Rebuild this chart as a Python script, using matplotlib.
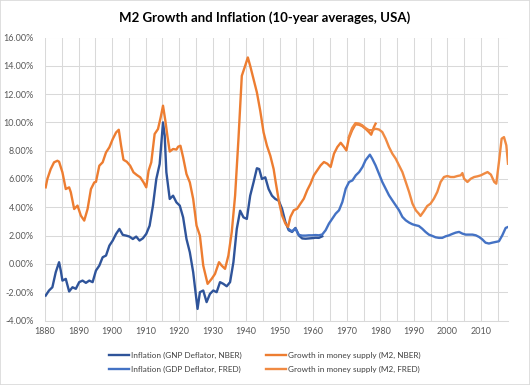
import matplotlib.pyplot as plt
from matplotlib.patches import Rectangle

# 10-year averages, percent
nber_infl_years = [1880.2, 1881.2, 1882.2, 1883.2, 1884.2, 1884.7, 1885.2, 1886.2, 1887.2, 1888.2,
                   1889.2, 1890.2, 1891.2, 1892.2, 1893.2, 1894.2, 1895.2, 1896.2, 1897.2, 1898.2,
                   1899.2, 1900.2, 1901.2, 1902.2, 1903.2, 1904.2, 1905.2, 1906.2, 1907.2, 1908.2,
                   1909.2, 1910.2, 1911.2, 1912.2, 1913.2, 1914.2, 1915.2, 1915.7, 1916.2, 1917.2,
                   1918.2, 1919.2, 1920.2, 1921.2, 1922.2, 1923.2, 1924.2, 1924.9, 1925.5, 1926.2,
                   1927.2, 1928.2, 1929.2, 1930.2, 1931.2, 1932.2, 1933.2, 1934.2, 1935.2, 1936.2,
                   1937.2, 1938.2, 1939.2, 1940.2, 1941.2, 1942.2, 1943.2, 1943.9, 1944.7, 1945.7,
                   1946.7, 1947.7, 1948.7, 1949.7, 1950.7, 1951.7, 1952.7, 1953.7, 1954.7, 1955.7,
                   1956.7, 1957.7, 1958.7, 1959.7, 1960.7, 1961.7, 1962.7]
nber_infl = [-2.24, -1.88, -1.65, -0.59, 0.12, -0.47, -1.18, -1.06, -1.95, -1.65,
             -1.76, -1.29, -1.18, -1.34, -1.18, -1.29, -0.47, -0.12, 0.47, 0.59,
             1.29, 1.65, 2.12, 2.47, 2.05, 2.00, 1.93, 1.76, 1.93, 1.65,
             1.81, 2.12, 2.70, 4.12, 6.00, 7.06, 10.0, 9.06, 6.48, 4.59,
             4.82, 4.35, 4.12, 3.29, 1.76, 0.82, -0.59, -2.00, -3.18, -2.00,
             -1.88, -2.70, -2.12, -1.88, -2.00, -1.29, -1.41, -1.58, -1.29, 0.12,
             2.47, 3.76, 3.29, 3.18, 4.82, 5.76, 6.76, 6.70, 6.00, 6.12,
             5.29, 4.82, 4.59, 4.47, 3.90, 2.96, 2.38, 2.26, 2.54, 2.02,
             1.80, 1.78, 1.80, 1.82, 1.85, 1.84, 1.95]

nber_m2_years = [1880.2, 1880.7, 1881.7, 1882.7, 1883.7, 1884.2, 1885.2, 1886.2, 1887.2, 1887.7,
                 1888.7, 1889.7, 1890.7, 1891.7, 1892.7, 1893.7, 1894.7, 1895.2, 1896.2, 1897.2,
                 1898.2, 1899.2, 1900.2, 1901.2, 1902.0, 1902.7, 1903.4, 1904.4, 1905.4, 1906.4,
                 1907.4, 1908.4, 1909.4, 1910.2, 1910.9, 1911.7, 1912.7, 1913.7, 1914.5, 1915.2,
                 1915.9, 1916.5, 1917.2, 1918.2, 1919.2, 1919.7, 1920.4, 1921.2, 1922.2, 1923.2,
                 1924.2, 1925.2, 1926.2, 1927.2, 1928.5, 1929.7, 1930.7, 1931.9, 1932.7, 1933.7,
                 1934.7, 1935.7, 1936.7, 1937.7, 1938.7, 1939.7, 1940.5, 1941.2, 1942.2, 1943.2,
                 1944.2, 1945.2, 1946.2, 1947.2, 1948.2, 1948.8, 1949.8, 1950.7, 1951.7, 1952.5,
                 1953.2, 1954.2, 1955.2, 1956.2, 1957.2, 1958.2, 1959.2, 1960.2, 1961.2, 1962.2,
                 1963.2, 1964.2, 1965.2, 1966.2, 1967.2, 1968.2, 1969.2, 1969.9, 1970.6, 1971.6,
                 1972.6, 1973.6, 1974.6, 1975.6, 1976.6, 1977.3, 1978.1, 1978.6]
nber_m2 = [5.41, 6.00, 6.70, 7.18, 7.29, 7.22, 6.47, 5.29, 5.41, 5.06,
           3.88, 4.12, 3.41, 3.06, 3.88, 5.29, 5.76, 5.80, 6.94, 7.18,
           7.88, 8.24, 8.82, 9.29, 9.48, 8.35, 7.36, 7.22, 6.94, 6.47,
           6.28, 6.12, 5.76, 5.41, 6.59, 7.18, 9.18, 9.53, 10.35, 11.18,
           10.12, 9.06, 7.94, 8.12, 8.08, 8.28, 8.35, 7.53, 6.35, 5.76,
           4.59, 2.71, 2.00, -0.12, -1.41, -1.06, -0.71, 0.12, -0.12, -0.35,
           0.59, 2.24, 4.82, 8.82, 13.29, 14.00, 14.59, 14.00, 13.06, 12.12,
           10.82, 9.29, 8.35, 7.65, 6.70, 5.79, 4.38, 3.43, 2.85, 2.61,
           3.32, 3.79, 3.90, 4.26, 4.61, 5.20, 5.67, 6.26, 6.61, 6.96,
           7.20, 7.08, 6.85, 7.79, 8.26, 8.56, 8.26, 8.02, 8.85, 9.44,
           9.86, 9.84, 9.74, 9.55, 9.32, 9.13, 9.67, 9.91]

fred_infl_years = [1952.7, 1953.7, 1954.7, 1955.7, 1956.7, 1957.7, 1958.7, 1959.7, 1960.7, 1961.7,
                   1962.7, 1963.7, 1964.7, 1965.7, 1966.7, 1967.7, 1968.7, 1969.7, 1970.7, 1971.7,
                   1972.7, 1973.7, 1974.7, 1975.6, 1976.9, 1977.6, 1978.6, 1979.6, 1980.6, 1981.6,
                   1982.6, 1983.6, 1984.6, 1985.6, 1986.6, 1987.6, 1988.6, 1989.6, 1990.6, 1991.5,
                   1992.5, 1993.5, 1994.5, 1995.5, 1996.5, 1997.5, 1998.5, 1999.5, 2000.5, 2001.5,
                   2002.5, 2003.5, 2004.5, 2005.5, 2006.5, 2007.5, 2008.5, 2009.5, 2010.4, 2011.4,
                   2012.4, 2013.4, 2014.4, 2015.4, 2016.4, 2017.4, 2018.1]
fred_infl = [2.45, 2.30, 2.50, 2.05, 2.00, 2.00, 2.02, 2.02, 2.04, 2.02,
             2.08, 2.38, 2.85, 3.20, 3.55, 3.79, 4.38, 5.32, 5.79, 5.90,
             6.26, 6.49, 6.85, 7.32, 7.72, 7.44, 6.96, 6.38, 5.79, 5.32,
             4.85, 4.49, 4.14, 3.79, 3.32, 3.08, 2.92, 2.80, 2.73, 2.68,
             2.49, 2.26, 2.07, 1.98, 1.88, 1.84, 1.84, 1.95, 2.02, 2.12,
             2.21, 2.26, 2.14, 2.07, 2.07, 2.07, 2.02, 1.90, 1.74, 1.50,
             1.44, 1.50, 1.55, 1.60, 2.02, 2.54, 2.61]

fred_m2_years = [1970.6, 1971.6, 1972.6, 1973.6, 1974.6, 1975.6, 1976.6, 1977.6, 1978.6, 1979.6,
                 1980.6, 1981.6, 1982.6, 1983.6, 1984.6, 1985.6, 1986.6, 1987.6, 1988.6, 1989.6,
                 1990.6, 1991.5, 1992.0, 1993.0, 1994.0, 1995.0, 1996.0, 1997.0, 1998.0, 1999.0,
                 2000.0, 2001.0, 2002.0, 2003.0, 2004.0, 2004.5, 2005.0, 2006.0, 2007.0, 2008.0,
                 2009.0, 2010.0, 2011.0, 2012.0, 2013.0, 2014.0, 2014.6, 2015.4, 2016.2, 2016.9,
                 2017.6, 2018.1]
fred_m2 = [8.95, 9.60, 9.95, 9.92, 9.80, 9.60, 9.45, 9.45, 9.55, 9.50,
           9.32, 8.85, 8.26, 7.79, 7.44, 6.96, 6.49, 5.79, 5.08, 4.26,
           3.79, 3.55, 3.39, 3.72, 4.09, 4.26, 4.61, 5.08, 5.79, 6.14,
           6.21, 6.14, 6.14, 6.21, 6.26, 6.42, 6.02, 5.79, 6.02, 6.14,
           6.19, 6.26, 6.38, 6.49, 6.31, 5.79, 5.67, 7.20, 8.85, 8.96,
           8.38, 7.08]

y_ticks = [-4, -2, 0, 2, 4, 6, 8, 10, 12, 14, 16]
x_ticks = [1880, 1890, 1900, 1910, 1920, 1930, 1940, 1950, 1960, 1970, 1980, 1990, 2000, 2010]

plt.rcParams['font.family'] = ['Lato', 'DejaVu Sans']

fig = plt.figure(figsize=(5.3, 3.85), dpi=100)
ax = fig.add_axes([45 / 530, 1 - 320.5 / 385, 463 / 530, 283 / 385])

lw = 1.7
l1, = ax.plot(nber_infl_years, nber_infl, color='#2F549A', lw=lw, label='Inflation (GNP Deflator, NBER)')
l2, = ax.plot(nber_m2_years, nber_m2, color='#ED7D31', lw=lw, label='Growth in money supply (M2, NBER)')
l3, = ax.plot(fred_infl_years, fred_infl, color='#4472C4', lw=lw, label='Inflation (GDP Deflator, FRED)')
l4, = ax.plot(fred_m2_years, fred_m2, color='#F08A42', lw=lw, label='Growth in money supply (M2, FRED)')

ax.set_xlim(1880, 2018.1)
ax.set_ylim(-4, 16)
ax.set_yticks(y_ticks)
ax.set_yticklabels(['%.2f%%' % v for v in y_ticks])
ax.set_xticks(x_ticks)
ax.set_xticks(range(1880, 2018, 5), minor=True)
ax.tick_params(axis='both', which='both', length=0, labelsize=6.5, labelcolor='#595959')
ax.tick_params(axis='y', pad=8)
ax.tick_params(axis='x', pad=5)
ax.grid(True, which='both', color='#D9D9D9', lw=0.75)
ax.set_axisbelow(True)
for s in ['top', 'right', 'left']:
    ax.spines[s].set_visible(False)
ax.spines['bottom'].set_color('#D9D9D9')
ax.spines['bottom'].set_linewidth(0.75)

fig.text(0.5, 1 - 18 / 385, 'M2 Growth and Inflation (10-year averages, USA)',
         ha='center', va='center', fontsize=9.5, fontweight='bold', color='#000000')

leg = fig.legend(handles=[l1, l3, l2, l4], ncol=2, loc='center', bbox_to_anchor=(0.5, 1 - 362.5 / 385),
                 frameon=False, fontsize=5.9, handlelength=2.45, handletextpad=0.25, columnspacing=3.0,
                 labelspacing=0.75)
for t in leg.get_texts():
    t.set_color('#404040')

fig.patches.append(Rectangle((0, 0), 1, 1, transform=fig.transFigure, fill=False,
                             edgecolor='#D9D9D9', lw=1.2))

plt.savefig('out.png', dpi=100)
